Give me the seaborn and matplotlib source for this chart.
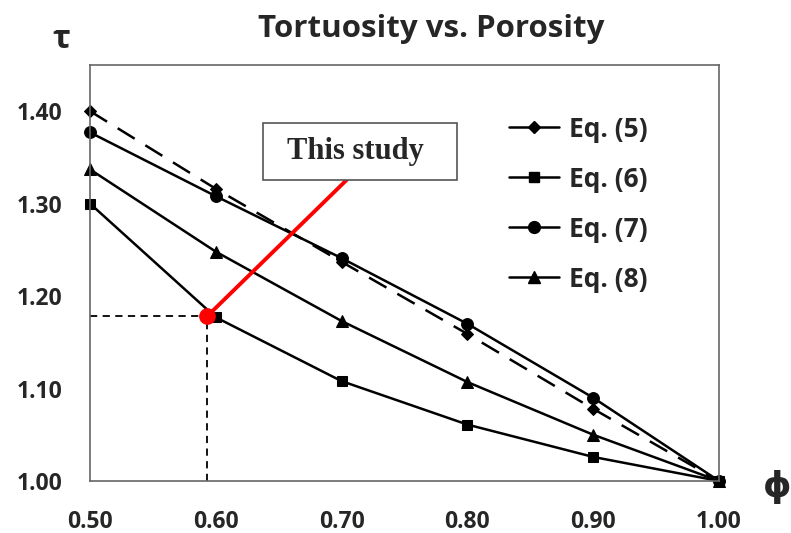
import pandas as pd
import matplotlib.pyplot as plt
import seaborn as sns
from matplotlib.lines import Line2D
from matplotlib.patches import Rectangle

# porosity values and tortuosity per equation
phi = [0.50, 0.60, 0.70, 0.80, 0.90, 1.00]
eq5 = [1.400, 1.316, 1.237, 1.159, 1.078, 1.000]
eq6 = [1.300, 1.177, 1.108, 1.061, 1.026, 1.000]
eq7 = [1.377, 1.308, 1.241, 1.170, 1.090, 1.000]
eq8 = [1.337, 1.248, 1.173, 1.107, 1.050, 1.000]
labels = ['Eq. (5)', 'Eq. (6)', 'Eq. (7)', 'Eq. (8)']

study_phi = 0.593
study_tau = 1.178

df = pd.DataFrame({'phi': phi * 4,
                   'tau': eq5 + eq6 + eq7 + eq8,
                   'eq': sum([[l] * len(phi) for l in labels], [])})

sns.set_style('white')
plt.rcParams['font.family'] = ['Open Sans', 'DejaVu Sans']

fig = plt.figure(figsize=(7.91, 5.33), dpi=100)
ax = fig.add_axes([0.1138, 0.0976, 0.7952, 0.7806])

markers = {'Eq. (5)': 'D', 'Eq. (6)': 's', 'Eq. (7)': 'o', 'Eq. (8)': '^'}
msizes = {'Eq. (5)': 6.5, 'Eq. (6)': 7, 'Eq. (7)': 8.5, 'Eq. (8)': 9}
styles = {'Eq. (5)': (0, (8, 5)), 'Eq. (6)': '-', 'Eq. (7)': '-', 'Eq. (8)': '-'}

for l in labels:
    d = df[df['eq'] == l]
    sns.lineplot(data=d, x='phi', y='tau', ax=ax, color='black', lw=1.8,
                 linestyle=styles[l], marker=markers[l], markersize=msizes[l],
                 markeredgecolor='black', clip_on=False, legend=False)

# this study point + guide lines
ax.plot([0.5, study_phi], [study_tau, study_tau], color='black', ls=(0, (4, 3)), lw=1.3)
ax.plot([study_phi, study_phi], [1.0, study_tau], color='black', ls=(0, (4, 3)), lw=1.3)
ax.plot([study_phi, 0.7043], [study_tau, 1.326], color='red', lw=2.8, zorder=4)
ax.add_patch(Rectangle((0.6375, 1.326), 0.1542, 0.061, fc='white', ec='#555555',
                       lw=1.2, zorder=4))
ax.text(0.7107, 1.356, 'This study', fontsize=22, fontweight='bold',
        family='Liberation Serif', ha='center', va='center', zorder=5)
ax.plot([study_phi], [study_tau], 'o', color='red', markersize=11, zorder=6)

ax.set_xlim(0.5, 1.0)
ax.set_ylim(1.0, 1.45)
ax.set_xticks(phi)
ax.set_xticklabels(['%.2f' % v for v in phi])
ax.set_yticks([1.0, 1.1, 1.2, 1.3, 1.4])
ax.set_yticklabels(['1.00', '1.10', '1.20', '1.30', '1.40'])
ax.tick_params(length=0, labelsize=16.5)
ax.tick_params(axis='x', pad=21)
ax.tick_params(axis='y', pad=20)
for t in ax.get_xticklabels() + ax.get_yticklabels():
    t.set_fontweight('bold')
ax.set_xlabel('')
ax.set_ylabel('')
for s in ax.spines.values():
    s.set_color('#666666')
    s.set_linewidth(1.2)

fig.text(0.545, 0.945, 'Tortuosity vs. Porosity', ha='center', va='center',
         fontsize=22.5, fontweight='bold')
fig.text(0.078, 0.925, 'τ', ha='center', va='center', fontsize=24, fontweight='bold')
fig.text(0.982, 0.085, 'ϕ', ha='center', va='center', fontsize=26, fontweight='bold')

handles = [Line2D([], [], color='black', lw=1.8, marker=markers[l], markersize=msizes[l])
           for l in labels]
leg = ax.legend(handles, labels, loc='upper left', bbox_to_anchor=(0.628, 0.935),
                frameon=False, prop={'size': 19, 'weight': 'bold'},
                handlelength=1.9, labelspacing=0.87, handletextpad=0.4)

plt.savefig('out.png', dpi=100)
